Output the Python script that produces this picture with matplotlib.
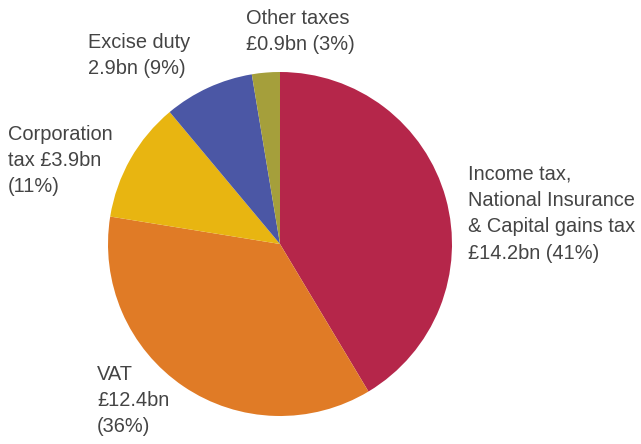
import matplotlib.pyplot as plt

# tax receipts, £bn
labels = ['Income tax, NI & CGT', 'VAT', 'Corporation tax', 'Excise duty', 'Other taxes']
values = [14.2, 12.4, 3.9, 2.9, 0.9]
shares = [41, 36, 11, 9, 3]
colors = ['#B5264A', '#E07B26', '#E8B511', '#4B57A5', '#A59F3B']

W, H = 641, 444
fig = plt.figure(figsize=(W / 100, H / 100), dpi=100)

# pie centred at (280, 244) px, radius 172 px
cx, cy, r = 280, 244, 172
ax = fig.add_axes([(cx - r) / W, 1 - (cy + r) / H, 2 * r / W, 2 * r / H])
ax.pie(values, colors=colors, startangle=90, counterclock=False,
       radius=1, wedgeprops=dict(linewidth=0))
ax.set_xlim(-1, 1)
ax.set_ylim(-1, 1)
ax.set_aspect('equal')
ax.axis('off')

txt = dict(fontsize=14.4, color='#444444', family='Liberation Sans',
           va='top', ha='left', linespacing=1.48)


def label(x, y, s):
    fig.text(x / W, 1 - y / H, s, **txt)


label(468, 165, 'Income tax,\nNational Insurance\n& Capital gains tax\n'
      '£%.1fbn (%d%%)' % (values[0], shares[0]))
label(97, 365, 'VAT\n£%.1fbn\n(%d%%)' % (values[1], shares[1]))
label(8, 125, 'Corporation\ntax £%.1fbn\n(%d%%)' % (values[2], shares[2]))
label(88, 33, 'Excise duty\n%.1fbn (%d%%)' % (values[3], shares[3]))
label(246, 9, 'Other taxes\n£%.1fbn (%d%%)' % (values[4], shares[4]))

fig.savefig('out.png', dpi=100)
